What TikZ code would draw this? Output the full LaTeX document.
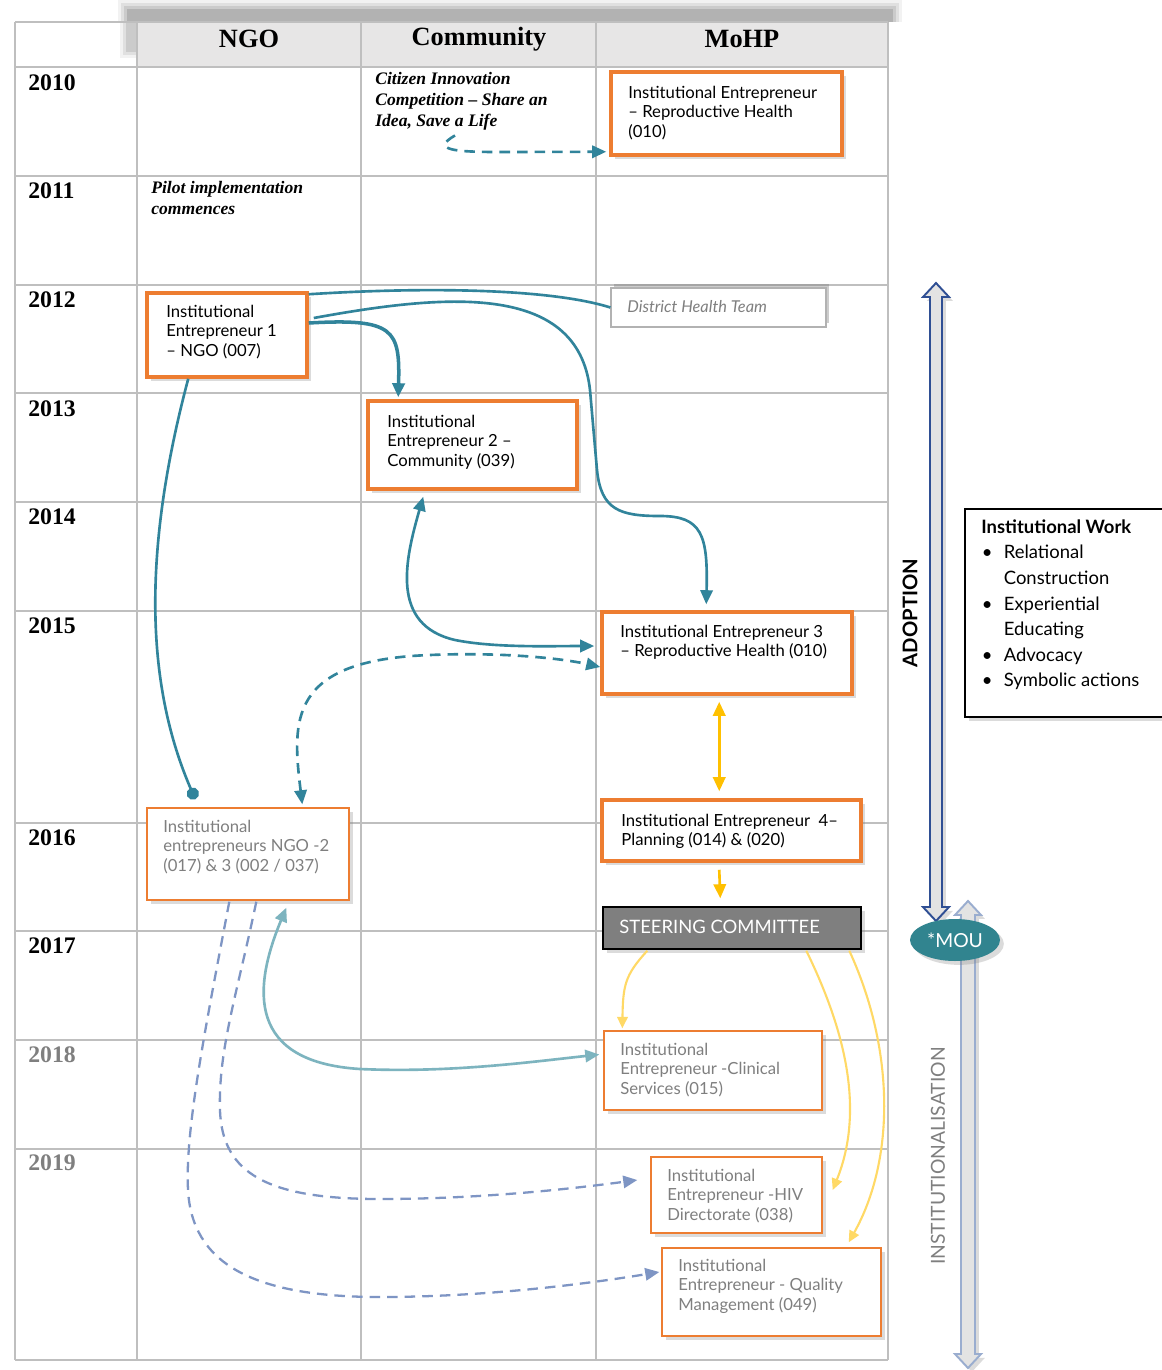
\documentclass[tikz,border=0pt]{standalone}
\usepackage{fontspec}
\setmainfont{Lato}
\newfontfamily\serifhd{Liberation Serif}
\usetikzlibrary{arrows.meta,shadows,shapes.geometric,calc,fit}
\definecolor{teal1}{HTML}{31849B}
\definecolor{orng}{HTML}{ED7D31}
\definecolor{gridc}{HTML}{BFBFBF}
\definecolor{hdrfill}{HTML}{E7E6E6}
\definecolor{ylw}{HTML}{FFC000}
\definecolor{ylwl}{HTML}{FFD966}
\definecolor{tealL}{HTML}{7DB4BF}
\definecolor{dashb}{HTML}{7E95C4}
\definecolor{adb}{HTML}{2F4F94}
\definecolor{inb}{HTML}{9AADCF}
\definecolor{txtg}{HTML}{7F7F7F}
\definecolor{moucol}{HTML}{31848F}
\definecolor{steerc}{HTML}{7F7F7F}
\tikzset{ttip/.tip={Triangle[length=8pt,width=7pt]},
         sstip/.tip={Triangle[length=6.5pt,width=6pt]}}
\begin{document}
\begin{tikzpicture}[x=0.02cm,y=-0.02cm,
 gridline/.style={draw=gridc,line width=1.1pt},
 shad/.style={drop shadow={opacity=0.28,shadow xshift=2.2pt,shadow yshift=-2.2pt}},
 thickbox/.style={draw=orng,line width=2pt,fill=white,inner sep=0pt,shad},
 thinbox/.style={draw=orng,line width=0.8pt,fill=white,inner sep=0pt,shad},
 btext/.style={anchor=north west,inner sep=0pt,align=left,font=\fontsize{9.5}{11}\selectfont},
 gtext/.style={btext,text=txtg},
 yr/.style={anchor=west,inner sep=0pt,font=\serifhd\bfseries\fontsize{13.5}{14}\selectfont},
 hd/.style={inner sep=0pt,font=\serifhd\bfseries\fontsize{15}{16}\selectfont},
 itxt/.style={anchor=north west,inner sep=0pt,align=left,font=\serifhd\bfseries\itshape\fontsize{10}{11.9}\selectfont},
 conn/.style={draw=teal1,line width=1.5pt},
 connd/.style={draw=teal1,line width=1.5pt,dash pattern=on 6pt off 4pt},
 connl/.style={draw=tealL,line width=1.5pt},
 connb/.style={draw=dashb,line width=1.3pt,dash pattern=on 6pt off 4pt},
 yconn/.style={draw=ylw,line width=1.5pt},
 ylconn/.style={draw=ylwl,line width=1.2pt}
]
\useasboundingbox (0,0) rectangle (1161,1370);
\fill[white] (0,0) rectangle (1161,1370);

% header shadow (soft)
\foreach \ee/\op in {10/0.05,7/0.07,4/0.09,1/0.12}
  \fill[black,opacity=\op] (128-\ee,10-\ee) rectangle (892+\ee,22);
\foreach \ee/\op in {8/0.05,5/0.07,2/0.09}
  \fill[black,opacity=\op] (128-\ee,22) rectangle (137,50+\ee);
\fill[hdrfill] (137,22) rectangle (888,67);

% grid
\foreach \yy in {22,67,176,285,393,502,611,823,931,1040,1149,1360}
  \draw[gridline] (15,\yy) -- (888,\yy);
\foreach \xx in {15,137,361,596,888}
  \draw[gridline] (\xx,22) -- (\xx,1360);

% headers
\node[hd] (hngo) at (249,39) {NGO};
\node[hd] (hcom) at (479,39) {Community};
\node[hd] (hmoh) at (742,39) {MoHP};

% years
\node[yr] (y10) at (28,83) {2010};
\node[yr] (y11) at (28,191) {2011};
\node[yr] (y12) at (28,300) {2012};
\node[yr] (y13) at (28,409) {2013};
\node[yr] (y14) at (28,517) {2014};
\node[yr] (y15) at (28,626) {2015};
\node[yr] (y16) at (28,838) {2016};
\node[yr] (y17) at (28,946) {2017};
\node[yr,text=txtg] (y18) at (28,1055) {2018};
\node[yr,text=txtg] (y19) at (28,1163) {2019};

% italic notes
\node[itxt] (cit) at (375,72) {Citizen Innovation\\Competition – Share an\\Idea, Save a Life};
\node[itxt] (pilot) at (151,181) {Pilot implementation\\commences};

% boxes
\node[thickbox,fit={(611,72) (842,155)}] (ierh) {};
\node[btext] (ierht) at (628,86) {Institutional Entrepreneur\\– Reproductive Health\\(010)};

\node[draw=gray!60,line width=0.7pt,fill=white,inner sep=0pt,drop shadow={opacity=0.4,shadow xshift=1.5pt,shadow yshift=2pt},fit={(611,288) (826,327)}] (dht) {};
\node[anchor=west,inner sep=0pt,text=txtg,font=\itshape\fontsize{9.3}{11}\selectfont] (dhtt) at (627,307) {District Health Team};

\node[thickbox,fit={(147,293) (307,377)}] (ie1) {};
\node[btext] (ie1t) at (166,305) {Institutional\\Entrepreneur 1\\– NGO (007)};

\node[thickbox,fit={(368,401) (577,489)}] (ie2) {};
\node[btext] (ie2t) at (387,415) {Institutional\\Entrepreneur 2 –\\Community (039)};

\node[thickbox,fit={(602,612) (852,694)}] (ie3) {};
\node[btext] (ie3t) at (620,625) {Institutional Entrepreneur 3\\– Reproductive Health (010)};

\node[thickbox,fit={(602,800) (861,861)}] (ie4) {};
\node[btext] (ie4t) at (621,814) {Institutional Entrepreneur\ \ 4–\\Planning (014) \& (020)};

\node[draw=black,line width=0.8pt,fill=steerc,inner sep=0pt,shad,fit={(603,907) (861,949)}] (steer) {};
\node[anchor=west,inner sep=0pt,text=white,font=\fontsize{10.5}{12}\selectfont] (steert) at (619,927) {STEERING COMMITTEE};

\node[thinbox,fit={(147,808) (349,900)}] (ngo2) {};
\node[gtext] (ngo2t) at (163,820) {Institutional\\entrepreneurs NGO -2\\(017) \& 3 (002 / 037)};

\node[thinbox,fit={(604,1031) (822,1110)}] (clin) {};
\node[gtext] (clint) at (620,1043) {Institutional\\Entrepreneur -Clinical\\Services (015)};

\node[thinbox,fit={(651,1157) (822,1233)}] (hiv) {};
\node[gtext] (hivt) at (667,1169) {Institutional\\Entrepreneur -HIV\\Directorate (038)};

\node[thinbox,fit={(662,1248) (881,1336)}] (qual) {};
\node[gtext] (qualt) at (678,1259) {Institutional\\Entrepreneur - Quality\\Management (049)};

% phase arrows
\path[draw=adb,fill=gray!22,line width=1.1pt,line join=miter,shad]
 (936,283) -- (949,297) -- (942,297) -- (942,907) -- (949,907) -- (936,921) -- (923,907) -- (930,907) -- (930,297) -- (923,297) -- cycle;
\node[rotate=90,inner sep=0pt,font=\bfseries\fontsize{11.5}{12}\selectfont] (adopt) at (910,613) {ADOPTION};

\path[draw=inb,fill=gray!22,line width=1.1pt,line join=miter,shad]
 (968,901) -- (981,915) -- (975,915) -- (975,1354) -- (981,1354) -- (968,1368) -- (955,1354) -- (961,1354) -- (961,915) -- (955,915) -- cycle;
\node[rotate=90,inner sep=0pt,text=txtg,font=\fontsize{11}{12}\selectfont] (instit) at (938,1156) {INSTITUTIONALISATION};

\node[ellipse,fill=moucol,minimum width=1.8cm,minimum height=0.84cm,inner sep=0pt,shad,text=white,font=\fontsize{11}{12}\selectfont] (mou) at (955,940) {*MOU};

% institutional work box
\node[draw=black,line width=0.7pt,fill=white,inner sep=0pt,shad,fit={(965,509) (1180,717)}] (iwork) {};
\node[anchor=north west,inner sep=0pt,align=left,font=\fontsize{10.5}{14.6}\selectfont] (iworkt) at (981,519)
 {\textbf{Institutional Work}\\
  \hspace*{0.3pt}\makebox[12.5pt][l]{\textbullet}Relational\\
  \hspace*{12.8pt}Construction\\
  \hspace*{0.3pt}\makebox[12.5pt][l]{\textbullet}Experiential\\
  \hspace*{12.8pt}Educating\\
  \hspace*{0.3pt}\makebox[12.5pt][l]{\textbullet}Advocacy\\
  \hspace*{0.3pt}\makebox[12.5pt][l]{\textbullet}Symbolic actions};

% connectors
\draw[connd,-{ttip}] ($(cit.south west)+(80,5)$) .. controls (430,150) and (455,152) .. (500,152) -- ($(ierh.south west)+(-3,-5)$);

\draw[conn] ($(ie1.north east)+(0,3)$) .. controls (440,286) and (555,290) .. (dht.west);

\draw[conn,-{ttip}] ($(ie1.east)+(5,-17)$) .. controls (440,295) and (578,280) .. (590,390)
  -- (597,470) .. controls (601,510) and (620,516) .. (660,516)
  .. controls (702,516) and (708,535) .. ($(ie3.north west)+(106,-6)$);

\draw[draw=teal1,line width=2pt,-{ttip}] ($(ie1.east)+(0,-12)$) .. controls (395,318) and (400,330) .. ($(ie2.north west)+(32,-2)$);

\draw[conn,-{Circle[length=7pt]}] ($(ie1.south west)+(43,0)$) .. controls (140,560) and (148,690) .. ($(ngo2.north west)+(49,-8)$);

\draw[conn,{ttip}-{ttip}] ($(ie2.south west)+(57,6)$) .. controls (405,560) and (390,625) .. (455,640)
  .. controls (495,648) and (550,646) .. ($(ie3.west)+(-6,-7)$);

\draw[connd,{ttip}-{ttip}] ($(ngo2.north west)+(156,-3)$) .. controls (292,720) and (288,660) .. (430,655)
  .. controls (500,652) and (560,658) .. ($(ie3.west)+(0,14)$);

\draw[yconn,{ttip}-{ttip}] ($(ie3.south west)+(119,6)$) -- ($(ie4.north west)+(119,-7)$);
\draw[yconn,-{ttip}] ($(ie4.south west)+(119,7)$) -- ($(steer.north west)+(118,-8)$);

\draw[ylconn,-{sstip}] ($(steer.south west)+(45,1)$) .. controls (625,975) and (623,985) .. ($(clin.north west)+(19,-2)$);
\draw[ylconn,-{sstip}] ($(steer.south west)+(204,1)$) .. controls (845,1030) and (865,1110) .. ($(hiv.east)+(10,-5)$);
\draw[ylconn,-{sstip}] ($(steer.south west)+(247,1)$) .. controls (895,1050) and (895,1160) .. ($(qual.north east)+(-33,-5)$);

\draw[connl,{ttip}-{ttip}] ($(ngo2.south west)+(140,7)$) .. controls (252,990) and (248,1062) .. (360,1069)
  .. controls (450,1073) and (530,1062) .. ($(clin.west)+(-4,-16)$);

\draw[connb,-{ttip}] ($(ngo2.south west)+(110,1)$) .. controls (238,990) and (218,1050) .. (220,1110)
  .. controls (222,1175) and (270,1199) .. (380,1199)
  .. controls (480,1199) and (570,1189) .. ($(hiv.west)+(-13,-15)$);

\draw[connb,-{ttip}] ($(ngo2.south west)+(83,1)$) .. controls (205,1030) and (185,1130) .. (188,1190)
  .. controls (192,1262) and (250,1297) .. (380,1297)
  .. controls (480,1297) and (580,1285) .. ($(qual.west)+(-2,-20)$);
\end{tikzpicture}
\end{document}
